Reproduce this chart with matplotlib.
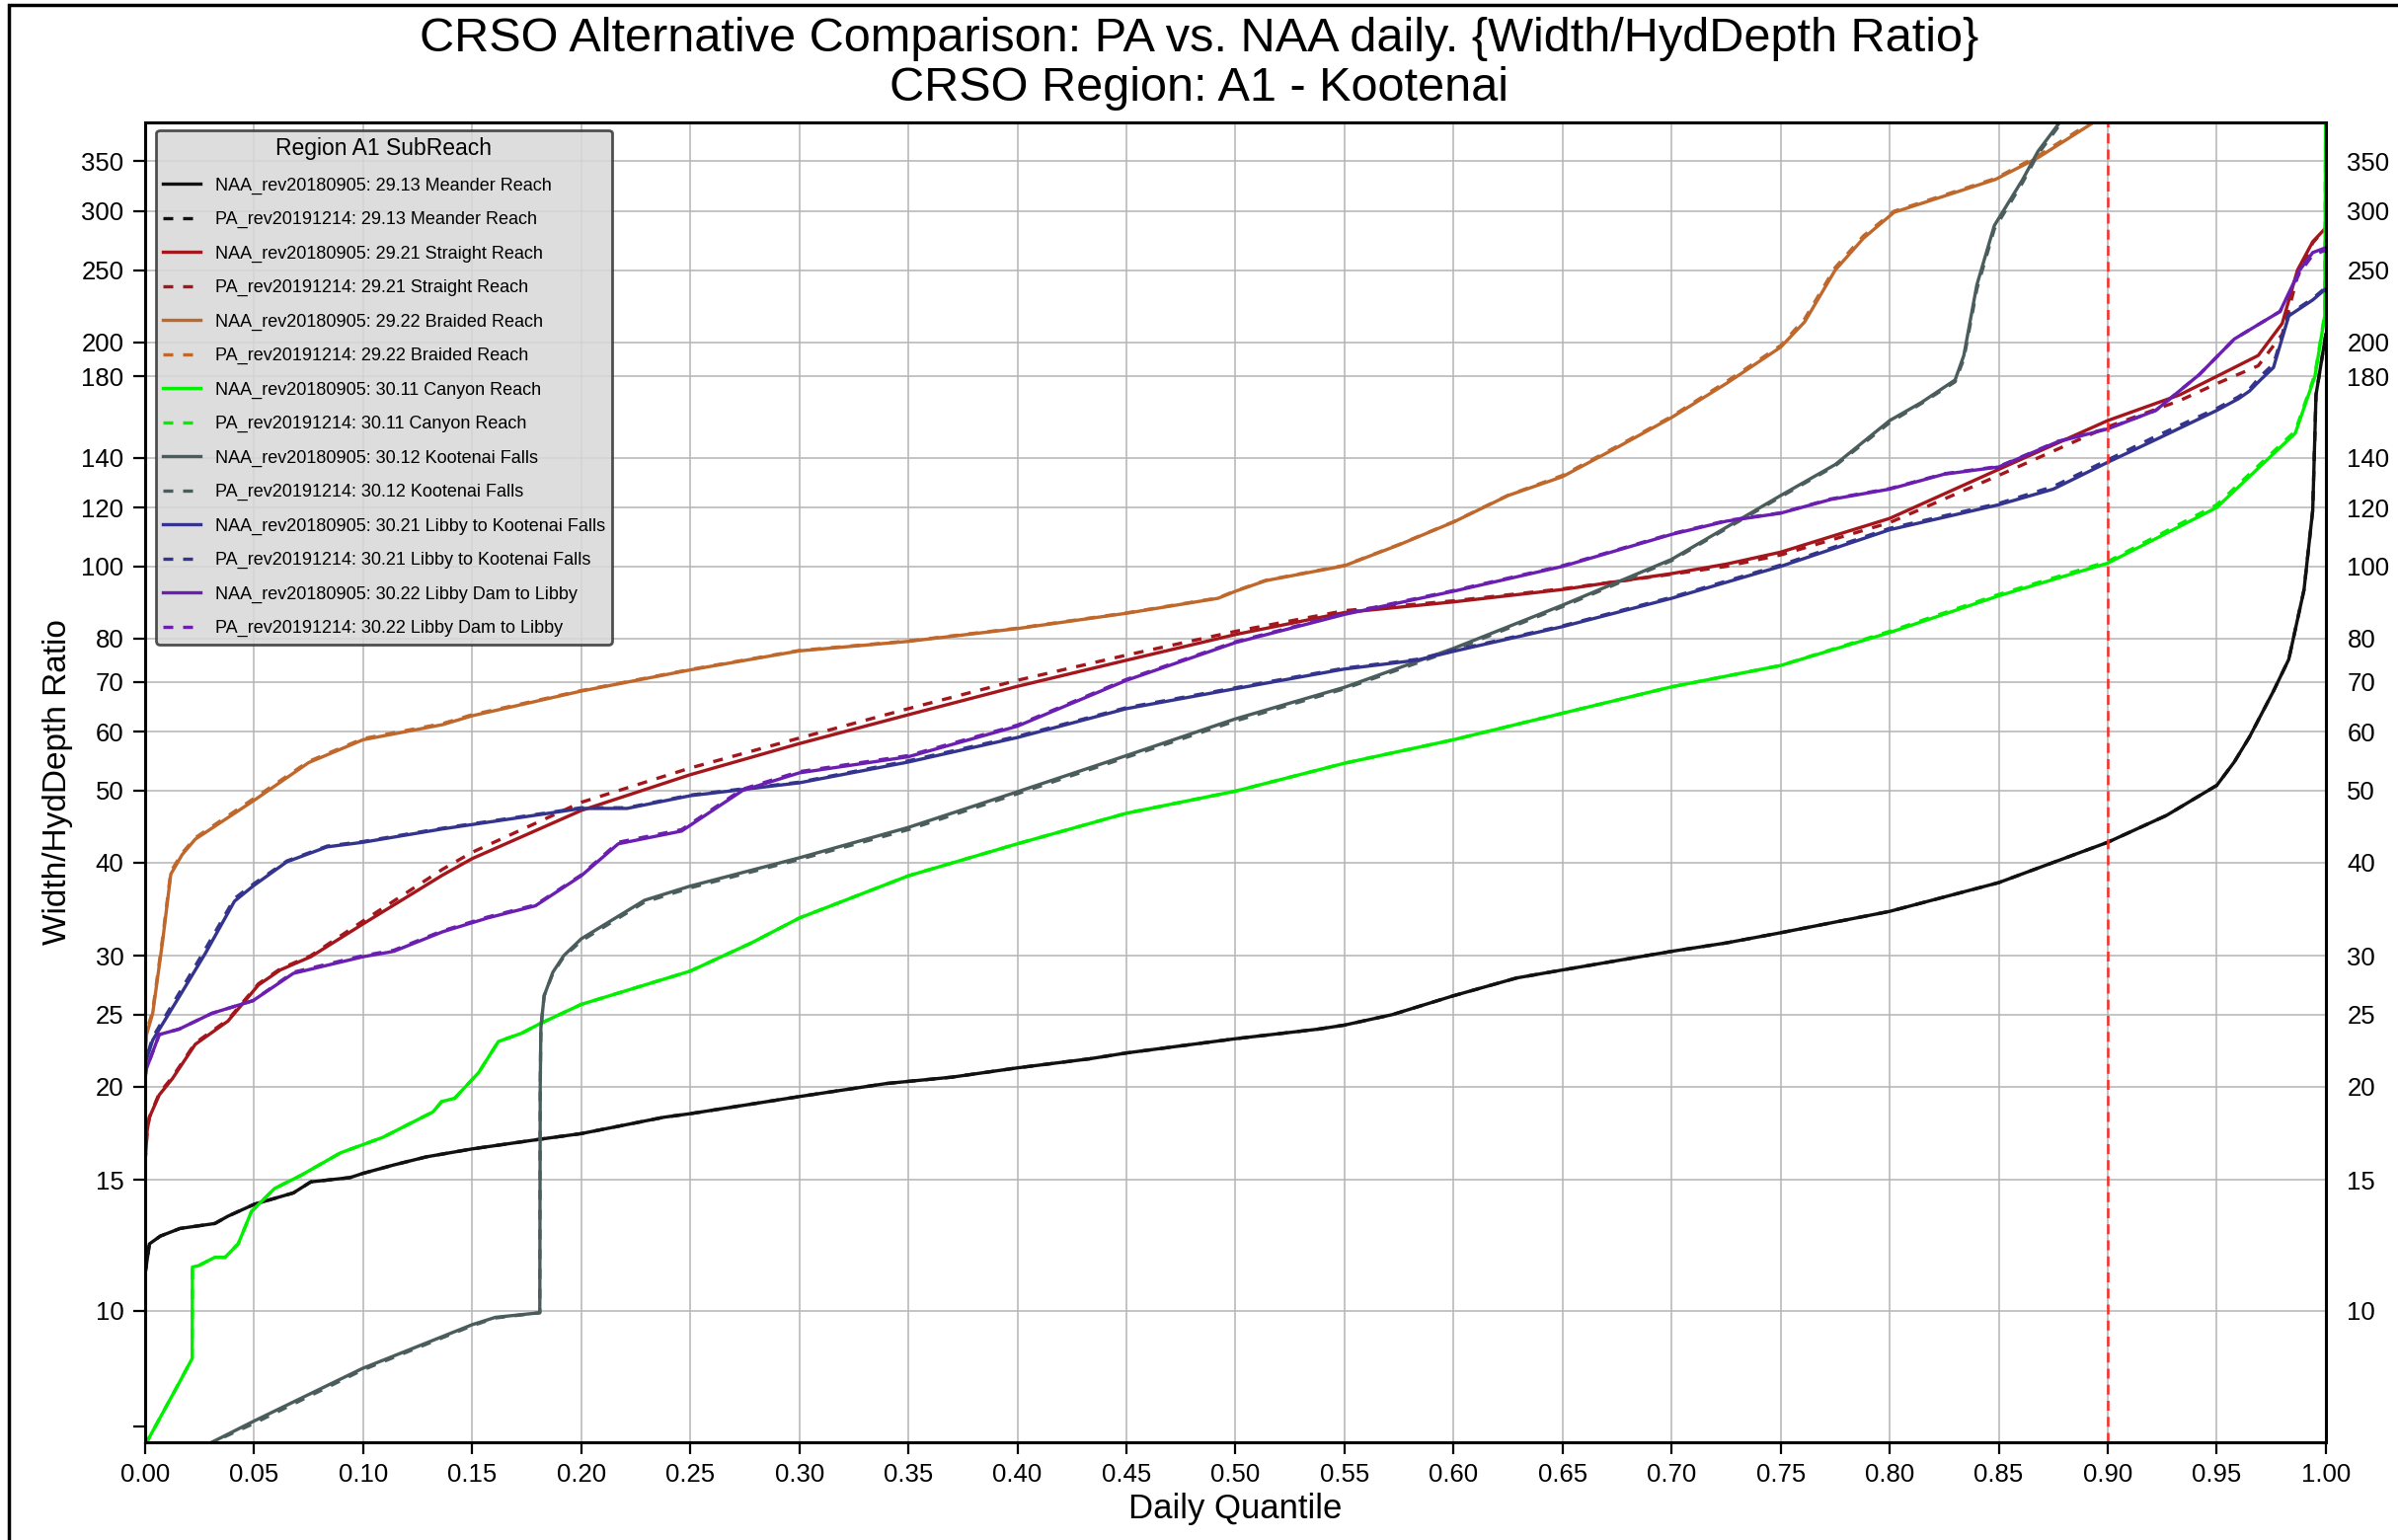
import numpy as np
import matplotlib
matplotlib.use("Agg")
import matplotlib.pyplot as plt
from matplotlib.ticker import FixedLocator, FixedFormatter, NullFormatter
from matplotlib.patches import Rectangle

plt.rcParams['font.family'] = ['Liberation Sans', 'DejaVu Sans']

# ---- data (quantile, Width/HydDepth ratio) ----
q_meander = [0.0, 0.002, 0.007, 0.016, 0.032, 0.038, 0.05, 0.068, 0.076, 0.094, 0.10, 0.114, 0.129, 0.15,
             0.181, 0.20, 0.238, 0.25, 0.30, 0.34, 0.37, 0.40, 0.433, 0.45, 0.50, 0.538, 0.55, 0.572, 0.60,
             0.629, 0.65, 0.70, 0.725, 0.75, 0.80, 0.85, 0.90, 0.927, 0.95, 0.958, 0.965, 0.976, 0.983,
             0.99, 0.994, 0.9955, 1.0]
naa_meander = [11.2, 12.3, 12.6, 12.9, 13.1, 13.4, 13.9, 14.4, 14.9, 15.1, 15.3, 15.7, 16.1, 16.5,
               17.0, 17.3, 18.2, 18.4, 19.4, 20.2, 20.6, 21.2, 21.8, 22.2, 23.2, 23.9, 24.2, 25.0, 26.5,
               28.0, 28.7, 30.4, 31.2, 32.2, 34.4, 37.6, 42.6, 46.3, 50.8, 54.6, 59.0, 68.0, 75.0,
               93.0, 119.0, 170.0, 205.0]
pa_meander = [11.2, 12.3, 12.6, 12.9, 13.1, 13.4, 13.9, 14.4, 14.9, 15.1, 15.3, 15.7, 16.1, 16.5,
              17.0, 17.3, 18.2, 18.4, 19.4, 20.2, 20.6, 21.2, 21.8, 22.2, 23.2, 23.9, 24.2, 25.0, 26.5,
              28.0, 28.7, 30.4, 31.2, 32.2, 34.4, 37.6, 42.6, 46.3, 50.8, 54.6, 59.0, 68.0, 75.0,
              93.0, 119.0, 170.0, 205.0]

q_straight = [0.0, 0.001, 0.002, 0.0065, 0.0125, 0.023, 0.038, 0.052, 0.062, 0.076, 0.10, 0.1365, 0.15,
              0.20, 0.25, 0.30, 0.35, 0.40, 0.45, 0.50, 0.55, 0.60, 0.65, 0.70, 0.725, 0.75, 0.80, 0.85,
              0.90, 0.933, 0.95, 0.969, 0.98, 0.987, 0.994, 1.0]
naa_straight = [15.8, 17.5, 18.2, 19.5, 20.5, 22.8, 24.5, 27.4, 28.7, 29.9, 33.1, 38.5, 40.5,
                47.0, 52.5, 57.8, 63.2, 69.0, 74.8, 81.0, 86.7, 89.6, 93.1, 97.8, 100.7, 104.5, 116.0, 135.0,
                157.0, 170.0, 180.0, 192.0, 212.0, 250.0, 273.0, 285.0]
pa_straight = [15.8, 17.5, 18.2, 19.6, 20.6, 22.9, 24.6, 27.5, 28.8, 30.0, 33.4, 39.2, 41.3,
               48.2, 53.6, 58.8, 64.4, 70.3, 76.0, 81.8, 87.2, 89.9, 93.3, 97.6, 100.0, 103.6, 114.5, 132.5,
               154.0, 167.0, 176.0, 186.0, 205.0, 245.0, 272.0, 285.0]

q_braided = [0.0, 0.0005, 0.0035, 0.008, 0.0118, 0.017, 0.023, 0.05, 0.075, 0.10, 0.1365, 0.15, 0.20,
             0.25, 0.30, 0.35, 0.40, 0.45, 0.492, 0.50, 0.514, 0.55, 0.575, 0.60, 0.625, 0.65, 0.676,
             0.70, 0.725, 0.75, 0.761, 0.775, 0.788, 0.802, 0.823, 0.8485, 0.868, 0.893, 0.91]
naa_braided = [21.5, 23.4, 25.1, 31.3, 38.6, 41.0, 43.0, 48.5, 54.5, 58.5, 61.3, 63.0, 68.0,
               72.6, 77.0, 79.3, 82.5, 86.5, 90.6, 92.6, 95.7, 100.2, 106.9, 114.7, 124.5, 132.0, 145.0,
               158.5, 176.0, 197.0, 213.0, 250.0, 276.0, 299.0, 313.0, 331.0, 354.0, 394.0, 430.0]
pa_braided = [21.5, 23.6, 25.3, 31.6, 38.9, 41.2, 43.2, 48.8, 54.7, 58.7, 61.5, 63.2, 68.1,
              72.7, 77.1, 79.4, 82.6, 86.6, 90.7, 92.7, 95.8, 100.3, 107.0, 114.8, 124.6, 132.5, 145.5,
              159.0, 177.0, 198.0, 215.0, 252.0, 278.0, 300.0, 314.0, 332.0, 356.0, 396.0, 432.0]

q_canyon = [0.0, 0.0156, 0.0216, 0.0217, 0.0246, 0.032, 0.0367, 0.0427, 0.0488, 0.0594, 0.0714, 0.0896,
            0.109, 0.132, 0.136, 0.142, 0.153, 0.162, 0.1727, 0.181, 0.20, 0.25, 0.278, 0.30, 0.35, 0.40,
            0.45, 0.50, 0.55, 0.60, 0.65, 0.70, 0.75, 0.80, 0.85, 0.90, 0.95, 0.986, 0.995, 0.9995, 1.0]
naa_canyon = [6.6, 8.0, 8.63, 11.45, 11.5, 11.8, 11.8, 12.3, 13.6, 14.6, 15.2, 16.3,
              17.1, 18.5, 19.1, 19.3, 20.9, 23.0, 23.6, 24.3, 25.8, 28.6, 31.2, 33.7, 38.4, 42.4,
              46.6, 49.9, 54.4, 58.5, 63.5, 68.9, 73.6, 81.5, 91.3, 101.0, 120.0, 151.0, 180.0, 217.0, 450.0]
pa_canyon = [6.6, 8.0, 8.63, 11.45, 11.5, 11.8, 11.8, 12.3, 13.6, 14.6, 15.2, 16.3,
             17.1, 18.5, 19.1, 19.3, 20.9, 23.0, 23.6, 24.3, 25.8, 28.6, 31.2, 33.7, 38.4, 42.4,
             46.6, 49.9, 54.4, 58.5, 63.5, 68.9, 73.6, 81.8, 91.7, 101.5, 121.0, 152.0, 181.0, 218.0, 450.0]

q_falls = [0.028, 0.0495, 0.0998, 0.15, 0.1606, 0.181, 0.1812, 0.1815, 0.183, 0.187, 0.192, 0.20, 0.229,
           0.25, 0.30, 0.35, 0.40, 0.45, 0.50, 0.55, 0.60, 0.65, 0.70, 0.75, 0.775, 0.80, 0.8145, 0.83,
           0.834, 0.84, 0.848, 0.861, 0.868, 0.878, 0.885]
naa_falls = [6.6, 7.1, 8.37, 9.58, 9.8, 9.94, 20.0, 24.0, 26.5, 28.5, 30.0, 31.6, 35.6,
             37.2, 40.6, 44.6, 49.8, 55.7, 62.4, 68.8, 77.6, 88.7, 102.2, 124.5, 137.0, 157.0, 166.0, 178.0,
             192.0, 239.0, 287.0, 331.0, 361.0, 395.0, 430.0]
pa_falls = [6.6, 7.05, 8.33, 9.55, 9.78, 9.94, 20.0, 24.0, 26.5, 28.4, 29.9, 31.4, 35.4,
            37.0, 40.4, 44.3, 49.5, 55.4, 62.0, 68.5, 77.2, 88.3, 101.8, 124.0, 136.5, 156.0, 165.5, 177.0,
            190.0, 236.0, 284.0, 328.0, 358.0, 392.0, 428.0]

q_libby_kf = [0.0, 0.0005, 0.0035, 0.0156, 0.0276, 0.041, 0.0495, 0.065, 0.0835, 0.10, 0.1365, 0.183,
              0.20, 0.221, 0.25, 0.30, 0.35, 0.40, 0.45, 0.50, 0.55, 0.583, 0.60, 0.65, 0.70, 0.75, 0.80,
              0.85, 0.875, 0.90, 0.922, 0.95, 0.96, 0.965, 0.97, 0.976, 0.983, 0.994, 1.0]
naa_libby_kf = [21.0, 21.7, 23.1, 26.4, 30.2, 35.5, 37.2, 40.1, 42.0, 42.6, 44.4, 46.5,
                47.3, 47.3, 49.2, 51.2, 54.6, 58.9, 64.4, 68.5, 72.8, 74.8, 76.9, 83.0, 90.6, 100.0, 112.0,
                121.0, 127.0, 138.0, 148.0, 162.0, 168.0, 172.0, 178.0, 185.0, 217.0, 228.0, 236.0]
pa_libby_kf = [21.0, 21.8, 23.3, 26.7, 30.6, 35.8, 37.4, 40.2, 42.1, 42.7, 44.5, 46.6,
               47.4, 47.4, 49.3, 51.3, 54.8, 59.1, 64.6, 68.7, 73.0, 75.0, 77.1, 83.2, 90.9, 100.4, 112.5,
               121.5, 128.0, 139.0, 149.5, 163.0, 169.0, 173.0, 180.0, 187.0, 218.0, 229.0, 237.0]

q_libby_dam = [0.0, 0.0005, 0.0065, 0.0156, 0.0307, 0.0495, 0.068, 0.10, 0.114, 0.1365, 0.157, 0.179,
               0.20, 0.217, 0.246, 0.274, 0.30, 0.35, 0.40, 0.45, 0.50, 0.55, 0.60, 0.65, 0.70, 0.725,
               0.75, 0.773, 0.80, 0.825, 0.85, 0.877, 0.90, 0.922, 0.942, 0.958, 0.979, 0.988, 0.994, 1.0]
naa_libby_dam = [20.5, 21.1, 23.5, 23.9, 25.1, 26.1, 28.4, 29.9, 30.4, 32.3, 33.7, 35.0,
                 38.4, 42.4, 44.1, 50.0, 52.8, 55.5, 61.0, 70.3, 79.0, 86.2, 92.6, 100.0, 110.4, 115.0,
                 117.9, 123.0, 127.0, 133.0, 136.0, 147.0, 153.0, 162.0, 181.0, 202.0, 220.0, 250.0, 264.0, 268.0]
pa_libby_dam = [20.5, 21.1, 23.5, 23.9, 25.1, 26.1, 28.5, 30.0, 30.5, 32.4, 33.8, 35.1,
                38.5, 42.6, 44.3, 50.2, 53.0, 55.7, 61.2, 70.5, 79.2, 86.4, 92.8, 100.2, 110.6, 115.2,
                118.0, 123.2, 127.2, 133.2, 136.2, 147.2, 153.2, 162.0, 181.0, 202.0, 220.0, 248.0, 262.0, 266.0]

reaches = ["29.13 Meander Reach", "29.21 Straight Reach", "29.22 Braided Reach", "30.11 Canyon Reach",
           "30.12 Kootenai Falls", "30.21 Libby to Kootenai Falls", "30.22 Libby Dam to Libby"]
series = [(q_meander, naa_meander, pa_meander),
          (q_straight, naa_straight, pa_straight),
          (q_braided, naa_braided, pa_braided),
          (q_canyon, naa_canyon, pa_canyon),
          (q_falls, naa_falls, pa_falls),
          (q_libby_kf, naa_libby_kf, pa_libby_kf),
          (q_libby_dam, naa_libby_dam, pa_libby_dam)]
colors = ["#111111", "#a3161c", "#c0682c", "#00f000", "#4a5c5c", "#34348e", "#6a1fb0"]

yticks = [10, 15, 20, 25, 30, 40, 50, 60, 70, 80, 100, 120, 140, 180, 200, 250, 300, 350]
xticks = np.arange(0, 1.0001, 0.05)

fig = plt.figure(figsize=(24.29, 15.60), dpi=100)
ax = fig.add_axes([0.0605, 0.0635, 0.9094, 0.8571])

for (q, naa, pa), name, c in zip(series, reaches, colors):
    ax.plot(q, naa, color=c, lw=2.4, label="NAA_rev20180905: " + name)
    ax.plot(q, pa, color=c, lw=2.4, linestyle=(0, (3.0, 3.0)), label="PA_rev20191214: " + name)

ax.axvline(0.9, color="#ff2a2a", lw=1.8, linestyle=(0, (4, 2.5)))

ax.set_yscale("log")
ax.set_ylim(6.66, 395)
ax.set_xlim(0, 1)
ax.yaxis.set_major_locator(FixedLocator(yticks))
ax.yaxis.set_major_formatter(FixedFormatter([str(t) for t in yticks]))
ax.yaxis.set_minor_locator(FixedLocator([7]))
ax.yaxis.set_minor_formatter(NullFormatter())
ax.set_xticks(xticks)
ax.set_xticklabels(["%.2f" % t for t in xticks])

ax.grid(True, which="major", color="#b4b4b4", lw=1.1)
ax.tick_params(axis="both", which="major", labelsize=18.5, length=8.5, width=1.6, direction="out", pad=7)
ax.tick_params(axis="y", which="minor", length=8.5, width=1.6)
ax.tick_params(axis="y", which="both", labelright=True, right=False)
for s in ax.spines.values():
    s.set_linewidth(2.2)
    s.set_color("black")

ax.set_xlabel("Daily Quantile", fontsize=25, labelpad=4)
ax.set_ylabel("Width/HydDepth Ratio", fontsize=24, labelpad=6)

fig.text(0.5, 0.975, "CRSO Alternative Comparison: PA vs. NAA daily. {Width/HydDepth Ratio}",
         ha="center", va="center", fontsize=35)
fig.text(0.5, 0.9425, "CRSO Region: A1 - Kootenai", ha="center", va="center", fontsize=35)

leg = ax.legend(loc="upper left", bbox_to_anchor=(0.005, 0.994), borderaxespad=0,
                fontsize=13, title="Region A1 SubReach", title_fontsize=16.5,
                labelspacing=0.96, handlelength=2.1, fancybox=True, framealpha=0.85)
leg.get_frame().set_facecolor("#d8d8d8")
leg.get_frame().set_edgecolor("#333333")
leg.get_frame().set_linewidth(2)

fig.patches.append(Rectangle((0.0035, -0.05), 1.2, 1.0465, transform=fig.transFigure,
                             fill=False, edgecolor="black", lw=2.5))

fig.savefig("out.png", dpi=100)
